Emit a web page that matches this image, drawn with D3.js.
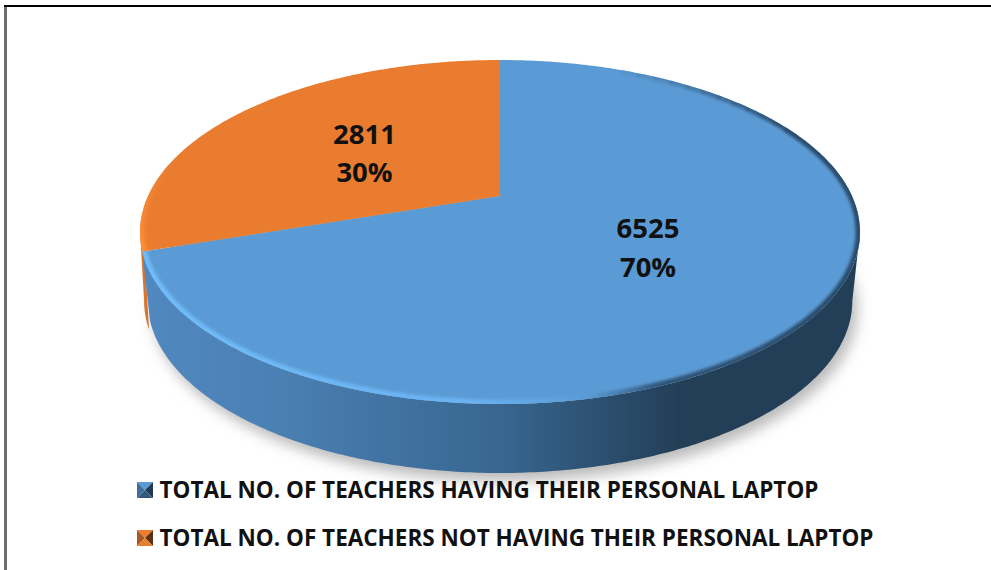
<!DOCTYPE html>
<html><head><meta charset="utf-8">
<script src="https://cdnjs.cloudflare.com/ajax/libs/d3/7.8.5/d3.min.js"></script>
<style>html,body{margin:0;padding:0;background:#fff}svg{display:block}</style>
</head><body><svg id="c" width="991" height="570"></svg>
<script>
const categories = ["TOTAL NO. OF TEACHERS HAVING THEIR PERSONAL LAPTOP","TOTAL NO. OF TEACHERS NOT HAVING THEIR PERSONAL LAPTOP"];
const values = [6525, 2811];
const percentLabels = ["70%", "30%"];
const topColors = ["#5b9bd5", "#ea7c30"];

const svg = d3.select("#c");
const defs = svg.append("defs");

// perspective projection of the unit disc onto the tilted pie
const persp = -0.2093, ya = 123.44, yb = 196, cx = 500;
const proj = (theta, r, K, dy) => {
  const u = r * Math.sin(theta), v = -r * Math.cos(theta), w = 1 + persp * v;
  return [cx + K * u / w, (ya * v + yb) / w + dy];
};
const Ktop = 352, Kbot = 344.5, depth = 69, orangeFlare = 3.5;
const topPt = (t, r = 1) => proj(t, r, Ktop, 0);
const botPt = (t, extra = 0) => proj(t, 1, Kbot + extra, depth);
const samples = (a, b) => { const n = Math.max(2, Math.ceil(Math.abs(b - a) / 0.01)); return d3.range(n + 1).map(i => a + (b - a) * i / n); };
const line = d3.line();

const arcs = d3.pie().sort(null)(values);
const rightEdge = Math.acos(persp), leftEdge = 2 * Math.PI - rightEdge;

// gradients / filters
const grad = (id, stops, x1, x2, y1 = 0, y2 = 0) => {
  const g = defs.append("linearGradient").attr("id", id).attr("gradientUnits", "userSpaceOnUse")
    .attr("x1", x1).attr("x2", x2).attr("y1", y1).attr("y2", y2);
  stops.forEach(s => g.append("stop").attr("offset", s[0]).attr("stop-color", s[1]).attr("stop-opacity", s[2] === undefined ? 1 : s[2]));
};
grad("sideBlue", [[0, "#5088bf"], [0.2, "#4a7fb2"], [0.5, "#386690"], [0.7, "#274763"], [0.75, "#233f58"], [1, "#233f58"]], 145, 855);
grad("sideOrange", [[0, "#d9742c"], [1, "#d9742c"]], 140, 155);
grad("rimBlue", [[0, "#70bcfa"], [0.45, "#6ab3f2"], [0.62, "#5b9bd5"], [0.72, "#2f5578"], [1, "#2a4c6c"]], 143, 860);
grad("rimOrange", [[0, "#ff8f35"], [1, "#ff8f35", 0]], 0, 0, 250, 165);
const blur = (id, s) => defs.append("filter").attr("id", id).attr("x", "-10%").attr("y", "-10%").attr("width", "120%").attr("height", "130%")
  .append("feGaussianBlur").attr("stdDeviation", s);
blur("b7", 7); blur("b2", 1.7);

// frame
svg.append("rect").attr("x", 4).attr("y", 7).attr("width", 3).attr("height", 563).attr("fill", "#6e6e6e");
svg.append("rect").attr("x", 4).attr("y", 5).attr("width", 987).attr("height", 2).attr("fill", "#000");

// shadow
const full = samples(0, 2 * Math.PI);
svg.append("path").attr("d", line(full.map(t => { const p = botPt(t); return [p[0] + 5, p[1] + 8]; })) + "Z")
  .attr("fill", "#b9b9b9").attr("filter", "url(#b7)");

// side walls: the orange wall sits behind and shows as a thin strip past the blue wall
[1, 0].forEach(i => {
  const d = arcs[i];
  const a = i === 1 ? d.startAngle - 0.05 : Math.max(d.startAngle, rightEdge);
  const b = i === 1 ? leftEdge : Math.min(d.endAngle, leftEdge);
  const ts = samples(a, b);
  const extra = i === 1 ? orangeFlare : 0;
  const pts = ts.map(t => topPt(t)).concat(ts.slice().reverse().map(t => botPt(t, extra)));
  svg.append("path").attr("d", line(pts) + "Z").attr("fill", i === 0 ? "url(#sideBlue)" : "url(#sideOrange)");
});

// top faces
const slicePts = d => [topPt(0, 0)].concat(samples(d.startAngle, d.endAngle).map(t => topPt(t)));
arcs.forEach((d, i) => {
  const cid = "clip" + i;
  defs.append("clipPath").attr("id", cid).append("path").attr("d", line(slicePts(d)) + "Z");
  svg.append("path").attr("d", line(slicePts(d)) + "Z").attr("fill", topColors[i]);
  const g = svg.append("g").attr("clip-path", `url(#${cid})`).append("g").attr("filter", "url(#b2)");
  // bevel along the outer rim
  const rimFrom = i === 0 ? 1.1 : d.startAngle - 0.03, rimTo = i === 0 ? d.endAngle + 0.03 : d.startAngle + 0.55;
  g.append("path").attr("d", line(samples(rimFrom, rimTo).map(t => topPt(t)))).attr("fill", "none")
    .attr("stroke", i === 0 ? "url(#rimBlue)" : "url(#rimOrange)").attr("stroke-width", 9);
  if (i === 0) {
    // upper-right part of the rim fades in gradually
    const steps = d3.range(12), fade = d3.scaleLinear().domain([0, 11]).range([0.42, 1.1]);
    steps.forEach(k => {
      g.append("path").attr("d", line(samples(fade(k), fade(k) + 0.07).map(t => topPt(t)))).attr("fill", "none")
        .attr("stroke", "#2a4c6c").attr("stroke-opacity", (k + 1) / 12).attr("stroke-width", 8);
    });
  }
});

// data labels
const mid = d => (d.startAngle + d.endAngle) / 2;
arcs.forEach((d, i) => {
  const p = topPt(mid(d), 0.5);
  const x = p[0] + (i === 0 ? -4 : -1);
  svg.append("text").attr("x", x).attr("y", i === 0 ? 238 : 144).attr("text-anchor", "middle").attr("class", "lab").text(d3.format("d")(values[i]));
  svg.append("text").attr("x", x).attr("y", i === 0 ? 277 : 182).attr("text-anchor", "middle").attr("class", "lab").text(percentLabels[i]);
});
svg.selectAll("text.lab").attr("font-family", "'Open Sans','Noto Sans',sans-serif").attr("font-weight", 700).attr("font-size", 27.5).attr("fill", "#111");

// legend
const legendY = d3.scalePoint().domain(categories).range([490, 538]);
const shades = [["#5b9bd5", "#3e6f9e", "#1f3a52", "#33597c"], ["#ed7d31", "#a8591f", "#5c3010", "#e8802f"]];
categories.forEach((c, i) => {
  const y = legendY(c), x0 = 137, s = 16, t = y - s / 2, m = [x0 + s / 2, y];
  const tl = [x0, t], tr = [x0 + s, t], br = [x0 + s, t + s], bl = [x0, t + s];
  [[tl, tr], [bl, tl], [tr, br], [br, bl]].forEach((e, j) => {
    svg.append("path").attr("d", line([e[0], e[1], m]) + "Z").attr("fill", shades[i][j]);
  });
  svg.append("text").attr("x", 159.5).attr("y", y + 8).attr("font-family", "'Open Sans','Noto Sans',sans-serif")
    .attr("font-weight", 700).attr("font-size", 22.5).attr("fill", "#111").text(c);
});
</script></body></html>
